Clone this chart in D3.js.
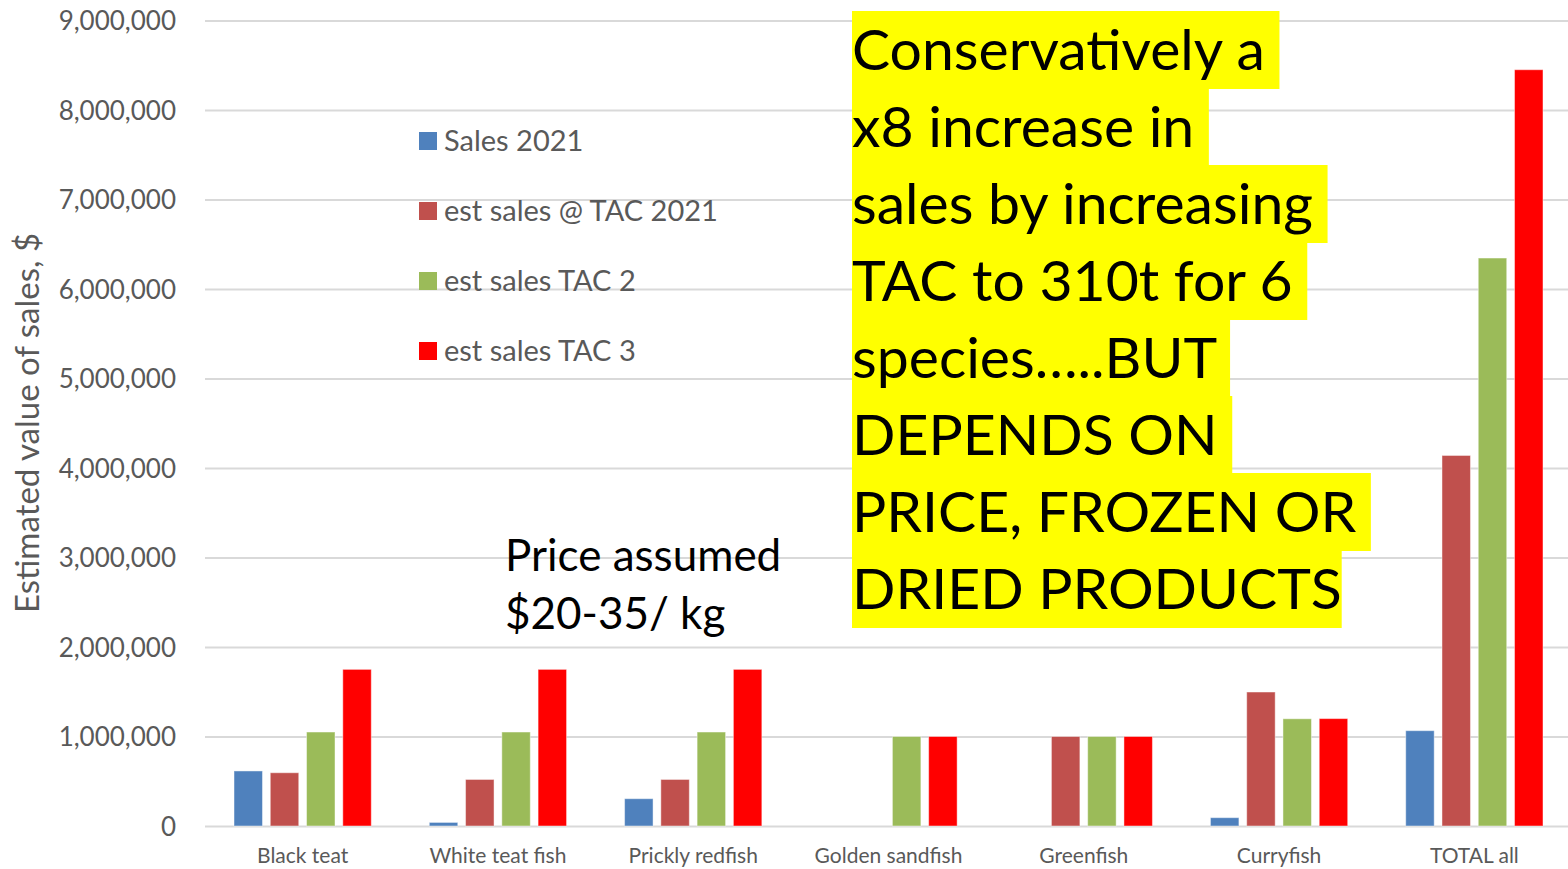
<!DOCTYPE html>
<html><head><meta charset="utf-8">
<script src="https://cdn.jsdelivr.net/npm/d3@7"></script>
<style>body{margin:0;background:#fff}svg{display:block}</style>
</head><body>
<svg id="c" width="1568" height="869"></svg>
<script>
const categories = ["Black teat","White teat fish","Prickly redfish","Golden sandfish","Greenfish","Curryfish","TOTAL all"];
const seriesNames = ["Sales 2021","est sales @ TAC 2021","est sales TAC 2","est sales TAC 3"];
const sales2021   = [615000, 40000, 305000, 0, 0, 93000, 1065000];
const estTAC2021  = [595000, 520000, 520000, 0, 1000000, 1497000, 4140000];
const estTAC2     = [1050000, 1050000, 1050000, 1000000, 1000000, 1198000, 6346000];
const estTAC3     = [1750000, 1750000, 1750000, 1000000, 1000000, 1200000, 8450000];
const seriesColors = ["#4F81BD","#C0504D","#9BBB59","#FF0000"];
const yTicks = [0,1000000,2000000,3000000,4000000,5000000,6000000,7000000,8000000,9000000];
const yTitle = "Estimated value of sales, $";
const priceNote = ["Price assumed","$20-35/ kg"];
const bigNote = ["Conservatively a ","x8 increase in ","sales by increasing ","TAC to 310t for 6 ","species…..BUT ","DEPENDS ON ","PRICE, FROZEN OR ","DRIED PRODUCTS"];

const allSeries = [sales2021, estTAC2021, estTAC2, estTAC3];
const svg = d3.select("#c");
const font = "Lato, 'Open Sans', sans-serif";
const L = 205, R = 1568, RB = 1572, T = 20.5, B = 826;

const y = d3.scaleLinear().domain([0, 9000000]).range([B, T]);
const x0 = d3.scaleBand().domain(categories).range([L, RB]).padding(0);
const x1 = d3.scaleBand().domain(d3.range(4)).range([0, x0.bandwidth()]).paddingInner(0.215).paddingOuter(0.8);

// gridlines
const yAxis = d3.axisLeft(y).tickValues(yTicks).tickSize(-(R - L)).tickPadding(29)
  .tickFormat(d => d3.format(",")(d));
const gy = svg.append("g").attr("transform", `translate(${L},0)`).call(yAxis);
gy.select(".domain").remove();
gy.selectAll(".tick line").attr("stroke", "#d9d9d9").attr("stroke-width", 2);
gy.selectAll(".tick text").attr("fill", "#595959").attr("font-family", font).attr("font-size", 26).attr("dy", "0.36em");

// bars
const g = svg.append("g");
categories.forEach((c, i) => {
  allSeries.forEach((s, k) => {
    const v = s[i];
    if (v <= 0) return;
    g.append("rect")
      .attr("x", x0(c) + x1(k))
      .attr("y", y(v))
      .attr("width", x1.bandwidth())
      .attr("height", y(0) - y(v))
      .attr("fill", seriesColors[k])
      .attr("stroke", "#ffffff").attr("stroke-opacity", 0.45).attr("stroke-width", 1);
  });
});

// x axis labels
const xAxis = d3.axisBottom(x0).tickSize(0).tickPadding(22);
const gx = svg.append("g").attr("transform", `translate(0,${B})`).call(xAxis);
gx.select(".domain").remove();
gx.selectAll(".tick text").attr("fill", "#595959").attr("font-family", font).attr("font-size", 21);

// y title
svg.append("text").attr("transform", "translate(39,423) rotate(-90)")
  .attr("text-anchor", "middle").attr("font-family", font).attr("font-size", 33)
  .attr("fill", "#595959").text(yTitle);

// legend
const lg = svg.append("g").attr("transform", "translate(419,141)");
seriesNames.forEach((n, k) => {
  const r = lg.append("g").attr("transform", `translate(0,${k * 70})`);
  r.append("rect").attr("x", 0).attr("y", -9).attr("width", 18).attr("height", 18).attr("fill", seriesColors[k]);
  r.append("text").attr("x", 25).attr("y", 0).attr("dy", "0.35em").attr("font-family", font)
    .attr("font-size", 29).attr("fill", "#595959").text(n);
});

// price note
const pn = svg.append("text").attr("font-family", font).attr("font-size", 44).attr("fill", "#000");
priceNote.forEach((t, i) => pn.append("tspan").attr("x", 505).attr("y", 571 + i * 58).text(t));

// big highlighted note
const bn = svg.append("g").attr("transform", "translate(852,0)");
const lineH = 77, top0 = 11, fs = 56, sx = 1.02;
bigNote.forEach((t, i) => {
  const row = bn.append("g").attr("transform", `translate(0,${top0 + i * lineH})`);
  const bg = row.append("rect").attr("x", 0).attr("y", 0).attr("height", lineH + 1).attr("fill", "#FFFF00");
  const tx = row.append("text").attr("x", 0).attr("y", 59).attr("font-family", font)
    .attr("font-size", fs).attr("fill", "#000").attr("transform", `scale(${sx},1)`)
    .style("white-space", "pre").attr("xml:space", "preserve").text(t);
  const w = tx.node().getComputedTextLength() * sx;
  bg.attr("width", w);
});
</script>
</body></html>
